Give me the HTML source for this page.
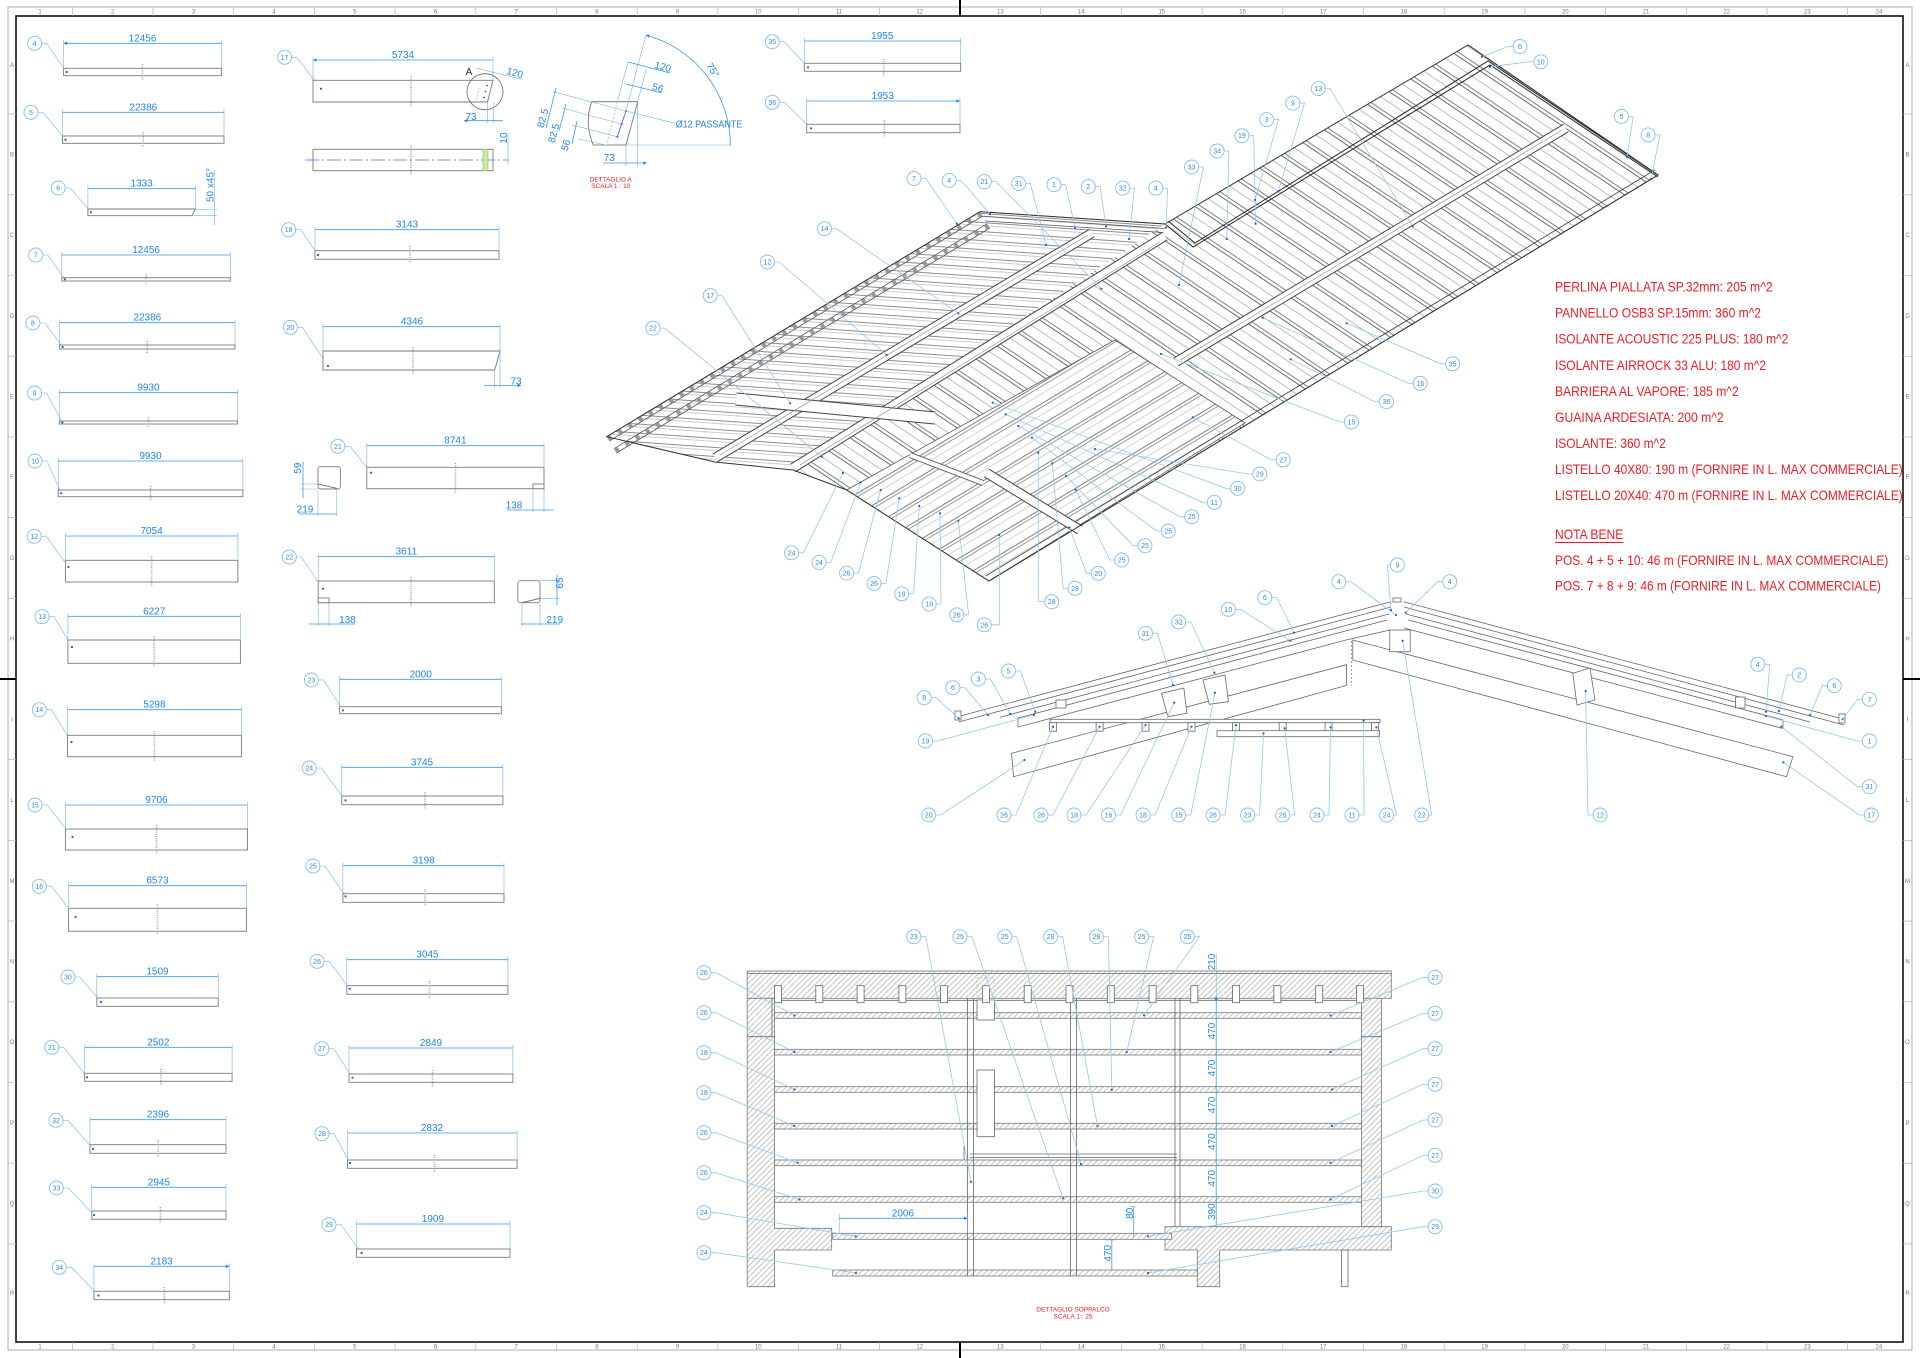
<!DOCTYPE html>
<html><head><meta charset="utf-8"><style>
html,body{margin:0;padding:0;background:#fff}
svg{display:block;font-family:"Liberation Sans",Arial,sans-serif}
.c{fill:#fff;stroke:#84bfec;stroke-width:.9}
.n{font-size:7px;fill:#2a8ce4;text-anchor:middle}
.l{fill:none;stroke:#92c8ef;stroke-width:.8}
.d{fill:#1560d8}
.dm{stroke:#3c98e8;stroke-width:.8;fill:none;marker-start:url(#ar);marker-end:url(#ar)}
.ex{stroke:#6fb3ea;stroke-width:.6;fill:none}
.dt{font-size:10px;fill:#1f86e8;text-anchor:middle}
.b{fill:#fff;stroke:#7a7a7a;stroke-width:.9}
.cm{stroke:#a8a8a8;stroke-width:1.6;stroke-dasharray:1 1.2;fill:none}
.k{fill:none;stroke:#666;stroke-width:.8}
.kw{fill:#fff;stroke:#666;stroke-width:.8}
.h{fill:url(#ph);stroke:#777;stroke-width:.8}
.r{fill:#ee1c25;font-size:14px}
.fr{font-size:6px;fill:#777;text-anchor:middle}
.rt{font-size:6.5px;fill:#ee1c25;text-anchor:middle}
</style></head><body>
<svg width="1920" height="1358" viewBox="0 0 1920 1358" xmlns="http://www.w3.org/2000/svg">
<defs>
<marker id="ar" viewBox="0 0 10 10" refX="10" refY="5" markerWidth="5" markerHeight="3.5" orient="auto-start-reverse" markerUnits="userSpaceOnUse"><path d="M0 0L10 5L0 10z" fill="#1e88e5"/></marker>
<pattern id="ph" patternUnits="userSpaceOnUse" width="6" height="4" patternTransform="rotate(-45)"><rect width="6" height="4" fill="#fff"/><path d="M0 .5H6" stroke="#9a9a9a" stroke-width=".6"/></pattern>
<pattern id="pR" patternUnits="userSpaceOnUse" width="40" height="22.6" patternTransform="rotate(33.8)"><rect width="40" height="22.6" fill="#fff"/><path d="M0 .5H40M0 4H40" stroke="#555" stroke-width=".8"/><path d="M0 13H40" stroke="#999" stroke-width=".6"/></pattern>
<pattern id="pL" patternUnits="userSpaceOnUse" width="40" height="9" patternTransform="rotate(4)"><rect width="40" height="9" fill="#fff"/><path d="M0 .5H40" stroke="#666" stroke-width=".7"/><path d="M0 3.5H40" stroke="#999" stroke-width=".6"/></pattern>
<pattern id="pS" patternUnits="userSpaceOnUse" width="40" height="18" patternTransform="rotate(-31)"><rect width="40" height="18" fill="#fff"/><path d="M0 .5H40" stroke="#555" stroke-width=".8"/><path d="M0 3.5H40" stroke="#777" stroke-width=".7"/><path d="M0 10H40" stroke="#aaa" stroke-width=".6"/></pattern>
</defs>
<rect width="1920" height="1358" fill="#fff"/>

<!-- FRAME -->
<rect x="8" y="7" width="1904" height="1343" fill="none" stroke="#9a9a9a" stroke-width=".8"/>
<rect x="16" y="16" width="1887" height="1326" fill="none" stroke="#111" stroke-width="1.6"/>
<path stroke="#aaa" stroke-width=".6" fill="none" d="M72.3 7V16M153 7V16M233.7 7V16M314.4 7V16M395.1 7V16M475.8 7V16M556.5 7V16M637.2 7V16M717.9 7V16M798.6 7V16M879.3 7V16M1040.7 7V16M1121.4 7V16M1202.1 7V16M1282.8 7V16M1363.5 7V16M1444.2 7V16M1524.9 7V16M1605.6 7V16M1686.3 7V16M1767 7V16M1847.7 7V16
M72.3 1342V1350M153 1342V1350M233.7 1342V1350M314.4 1342V1350M395.1 1342V1350M475.8 1342V1350M556.5 1342V1350M637.2 1342V1350M717.9 1342V1350M798.6 1342V1350M879.3 1342V1350M1040.7 1342V1350M1121.4 1342V1350M1202.1 1342V1350M1282.8 1342V1350M1363.5 1342V1350M1444.2 1342V1350M1524.9 1342V1350M1605.6 1342V1350M1686.3 1342V1350M1767 1342V1350M1847.7 1342V1350
M8 114.1H16M8 194.8H16M8 275.5H16M8 356.2H16M8 436.9H16M8 517.6H16M8 598.3H16M8 759.7H16M8 840.4H16M8 921.1H16M8 1001.8H16M8 1082.5H16M8 1163.2H16M8 1243.9H16
M1903 114.1H1912M1903 194.8H1912M1903 275.5H1912M1903 356.2H1912M1903 436.9H1912M1903 517.6H1912M1903 598.3H1912M1903 759.7H1912M1903 840.4H1912M1903 921.1H1912M1903 1001.8H1912M1903 1082.5H1912M1903 1163.2H1912M1903 1243.9H1912"/>
<path stroke="#000" stroke-width="2" d="M960 0V16M960 1342V1358M0 679H16M1903 679H1920"/>
<g class="fr">
<text x="40" y="13.6">1</text><text x="112.7" y="13.6">2</text><text x="193.4" y="13.6">3</text><text x="274.1" y="13.6">4</text><text x="354.8" y="13.6">5</text><text x="435.5" y="13.6">6</text><text x="516.2" y="13.6">7</text><text x="596.9" y="13.6">8</text><text x="677.6" y="13.6">9</text><text x="758.3" y="13.6">10</text><text x="839" y="13.6">11</text><text x="919.7" y="13.6">12</text><text x="1000.4" y="13.6">13</text><text x="1081.1" y="13.6">14</text><text x="1161.8" y="13.6">15</text><text x="1242.5" y="13.6">16</text><text x="1323.2" y="13.6">17</text><text x="1403.9" y="13.6">18</text><text x="1484.6" y="13.6">19</text><text x="1565.3" y="13.6">20</text><text x="1646" y="13.6">21</text><text x="1726.7" y="13.6">22</text><text x="1807.4" y="13.6">23</text><text x="1879" y="13.6">24</text>
<text x="40" y="1348.5">1</text><text x="112.7" y="1348.5">2</text><text x="193.4" y="1348.5">3</text><text x="274.1" y="1348.5">4</text><text x="354.8" y="1348.5">5</text><text x="435.5" y="1348.5">6</text><text x="516.2" y="1348.5">7</text><text x="596.9" y="1348.5">8</text><text x="677.6" y="1348.5">9</text><text x="758.3" y="1348.5">10</text><text x="839" y="1348.5">11</text><text x="919.7" y="1348.5">12</text><text x="1000.4" y="1348.5">13</text><text x="1081.1" y="1348.5">14</text><text x="1161.8" y="1348.5">15</text><text x="1242.5" y="1348.5">16</text><text x="1323.2" y="1348.5">17</text><text x="1403.9" y="1348.5">18</text><text x="1484.6" y="1348.5">19</text><text x="1565.3" y="1348.5">20</text><text x="1646" y="1348.5">21</text><text x="1726.7" y="1348.5">22</text><text x="1807.4" y="1348.5">23</text><text x="1879" y="1348.5">24</text>
<text x="12" y="67">A</text><text x="12" y="156.5">B</text><text x="12" y="237">C</text><text x="12" y="318">D</text><text x="12" y="398.5">E</text><text x="12" y="479">F</text><text x="12" y="560">G</text><text x="12" y="640.7">H</text><text x="12" y="721.4">I</text><text x="12" y="802">L</text><text x="12" y="882.8">M</text><text x="12" y="963.5">N</text><text x="12" y="1044">O</text><text x="12" y="1125">P</text><text x="12" y="1205.5">Q</text><text x="12" y="1295">R</text>
<text x="1907.5" y="67">A</text><text x="1907.5" y="156.5">B</text><text x="1907.5" y="237">C</text><text x="1907.5" y="318">D</text><text x="1907.5" y="398.5">E</text><text x="1907.5" y="479">F</text><text x="1907.5" y="560">G</text><text x="1907.5" y="640.7">H</text><text x="1907.5" y="721.4">I</text><text x="1907.5" y="802">L</text><text x="1907.5" y="882.8">M</text><text x="1907.5" y="963.5">N</text><text x="1907.5" y="1044">O</text><text x="1907.5" y="1125">P</text><text x="1907.5" y="1205.5">Q</text><text x="1907.5" y="1295">R</text>
</g>

<!-- LEFT COLUMN PARTS -->
<g>
<path class="l" d="M41.6 43.3h5L66.6 72M38 112.3h5L65.5 139.7M65.2 188h5L90.9 212.3M42.7 255h5L64.8 279.3M39.9 323h5L62.6 347M41.6 393h5L62.3 422.5M42 461h5L61.2 493.3M41.3 536.3h5L68.4 567M49.1 616.7h5L72 647M46.3 709.7h5L71.5 742M42 805h5L72.5 837M46.3 886.3h5L75.5 917M74.9 977h5L101 1002M58.8 1047.3h5L87 1077.3M63 1120.3h5L93 1149M63.4 1188h5L94 1215M66.3 1267.3h5L98.5 1295.5"/>
<path class="dm" d="M63.6 43.3H221.4M62.5 112.3H224M87.9 188.7H195.4M61.8 255H230.4M59.6 322.7H235M59.3 392.7H237.5M58.2 461H242.9M65.4 536H237.9M67.9 616.3H240.4M67.5 709.7H241.4M65.4 805H247.5M68.6 885.7H246.4M96.8 976.7H218.2M84.6 1047.3H232.1M90 1119.7H226M91.8 1187.3H226M93.9 1266.3H229.3"/>
<path class="ex" d="M63.6 40V68.3M221.4 40V68.3M62.5 109V136M224 109V136M87.9 185.4V209M195.4 185.4V209M61.8 252V277.7M230.4 252V277.7M59.6 319.7V345M235 319.7V345M59.3 389.7V421M237.5 389.7V421M58.2 458V490M242.9 458V490M65.4 533V560.3M237.9 533V560.3M67.9 613.3V640M240.4 613.3V640M67.5 706.7V735.3M241.4 706.7V735.3M65.4 802V829M247.5 802V829M68.6 882.7V908.3M246.4 882.7V908.3M96.8 973.7V998M218.2 973.7V998M84.6 1044.3V1073.3M232.1 1044.3V1073.3M90 1116.7V1144.7M226 1116.7V1144.7M91.8 1184.3V1211M226 1184.3V1211M93.9 1263.3V1291.3M229.3 1263.3V1291.3"/>
<g class="b">
<rect x="63.6" y="68.3" width="157.8" height="7.4"/><rect x="62.5" y="136" width="161.5" height="7.3"/><polygon points="87.9,209 195.4,209 192,215.7 87.9,215.7"/><rect x="61.8" y="277.7" width="168.6" height="3.3"/><rect x="59.6" y="345" width="175.4" height="4"/><rect x="59.3" y="421" width="178.2" height="3"/><rect x="58.2" y="490" width="184.7" height="6.7"/><rect x="65.4" y="560.3" width="172.5" height="21.7"/><rect x="67.9" y="640" width="172.5" height="23.3"/><rect x="67.5" y="735.3" width="173.9" height="21.4"/><rect x="65.4" y="829" width="182.1" height="21"/><rect x="68.6" y="908.3" width="177.8" height="23"/><rect x="96.8" y="998" width="121.4" height="8.3"/><rect x="84.6" y="1073.3" width="147.5" height="8"/><rect x="90" y="1144.7" width="136" height="8.6"/><rect x="91.8" y="1211" width="134.2" height="8.3"/><rect x="93.9" y="1291.3" width="135.4" height="8.4"/>
</g>
<path class="cm" d="M142.5 64V80M143.3 132V147M146.1 273.7V285M147.3 341V353M148.4 417V428M150.5 486V501M151.6 556V586M154.2 636V667M154.4 731V761M156.5 825V854M157.5 904V935M161 1069V1085M158.2 1140V1157M160.4 1207V1223M164.3 1287V1304"/>
<path class="ex" d="M214.6 170V225M195.4 209.5H217M192 215.7H217"/>
<text class="dt" transform="translate(213.5 185) rotate(-90)">50 x45°</text>
<g class="dt">
<text x="142.5" y="41.3">12456</text><text x="143.3" y="110.3">22386</text><text x="141.6" y="186.7">1333</text><text x="146.1" y="253">12456</text><text x="147.3" y="320.7">22386</text><text x="148.4" y="390.7">9930</text><text x="150.5" y="459">9930</text><text x="151.6" y="534">7054</text><text x="154.2" y="614.3">6227</text><text x="154.4" y="707.7">5298</text><text x="156.5" y="803">9706</text><text x="157.5" y="883.7">6573</text><text x="157.5" y="974.7">1509</text><text x="158.3" y="1045.3">2502</text><text x="158" y="1117.7">2396</text><text x="158.9" y="1185.3">2945</text><text x="161.6" y="1264.3">2183</text>
</g>
<g class="d"><circle cx="66.6" cy="72" r="1.1"/><circle cx="65.5" cy="139.7" r="1.1"/><circle cx="90.9" cy="212.3" r="1.1"/><circle cx="64.8" cy="279.3" r="1.1"/><circle cx="62.6" cy="347" r="1.1"/><circle cx="62.3" cy="422.5" r="1.1"/><circle cx="61.2" cy="493.3" r="1.1"/><circle cx="68.4" cy="567" r="1.1"/><circle cx="72" cy="647" r="1.1"/><circle cx="71.5" cy="742" r="1.1"/><circle cx="72.5" cy="837" r="1.1"/><circle cx="75.5" cy="917" r="1.1"/><circle cx="101" cy="1002" r="1.1"/><circle cx="87" cy="1077.3" r="1.1"/><circle cx="93" cy="1149" r="1.1"/><circle cx="94" cy="1215" r="1.1"/><circle cx="98.5" cy="1295.5" r="1.1"/></g>
<g class="c"><circle cx="34.6" cy="43.3" r="7"/><circle cx="31" cy="112.3" r="7"/><circle cx="58.2" cy="188" r="7"/><circle cx="35.7" cy="255" r="7"/><circle cx="32.9" cy="323" r="7"/><circle cx="34.6" cy="393" r="7"/><circle cx="35" cy="461" r="7"/><circle cx="34.3" cy="536.3" r="7"/><circle cx="42.1" cy="616.7" r="7"/><circle cx="39.3" cy="709.7" r="7"/><circle cx="35" cy="805" r="7"/><circle cx="39.3" cy="886.3" r="7"/><circle cx="67.9" cy="977" r="7"/><circle cx="51.8" cy="1047.3" r="7"/><circle cx="56" cy="1120.3" r="7"/><circle cx="56.4" cy="1188" r="7"/><circle cx="59.3" cy="1267.3" r="7"/></g>
<g class="n"><text x="34.6" y="45.8">4</text><text x="31" y="114.8">5</text><text x="58.2" y="190.5">6</text><text x="35.7" y="257.5">7</text><text x="32.9" y="325.5">8</text><text x="34.6" y="395.5">9</text><text x="35" y="463.5">10</text><text x="34.3" y="538.8">12</text><text x="42.1" y="619.2">13</text><text x="39.3" y="712.2">14</text><text x="35" y="807.5">15</text><text x="39.3" y="888.8">16</text><text x="67.9" y="979.5">30</text><text x="51.8" y="1049.8">31</text><text x="56" y="1122.8">32</text><text x="56.4" y="1190.5">33</text><text x="59.3" y="1269.8">34</text></g>
</g>

<!-- MIDDLE COLUMN PARTS -->
<g>
<path class="l" d="M291.6 57.3h5L321 88.7M295.6 229.7h5L318 255M297.4 327.3h5L328 366M344.9 446.3h5L371 472.7M296.3 557h5L323 588.7M318.4 680h5L343 710.3M316.3 768h5L345.5 800.3M319.9 866h5L345.5 896.3M324.1 961.3h5L349.7 988.7M328.8 1048.7h5L352.5 1077.7M329 1133.7h5L350 1163M336 1224.7h5L361.5 1253M779.3 41.7h5L808 67.3M779.3 102.3h5L811 128.3"/>
<path class="dm" d="M313 60H493M315 229.7H499M323 326.7H500M366.8 445.7H544M318.2 556.7H494.3M339.6 679.3H501.4M341.8 767.3H502.9M342.9 865.7H504M346.8 959.7H507.9M349 1048H512.9M347.5 1133H517.1M356.4 1224H510M804.3 41H960.7M806.7 101H960"/>
<path class="ex" d="M313 57V80.3M493 57V80.3M315 226.7V250.7M499 226.7V250.7M323 323.7V351M500 323.7V351M366.8 442.7V467.3M544 442.7V467.3M318.2 553.7V581M494.3 553.7V581M339.6 676.3V706.7M501.4 676.3V706.7M341.8 764.3V796M502.9 764.3V796M342.9 862.7V893.7M504 862.7V893.7M346.8 956.7V985.7M507.9 956.7V985.7M349 1045V1074M512.9 1045V1074M347.5 1130V1160M517.1 1130V1160M356.4 1221V1249M510 1221V1249M804.3 38V63.3M960.7 38V63.3M806.7 98V124.3M960 98V124.3"/>
<g class="b">
<polygon points="313,80.3 493,80.3 487.5,102 313,102"/><rect x="313" y="149.3" width="180" height="21.4"/><rect x="315" y="250.7" width="184" height="8.6"/><polygon points="323,351 500,351 494.7,370 323,370"/><rect x="366.8" y="467.3" width="177.2" height="21.4"/><rect x="533" y="484" width="11" height="4.7"/><rect x="318.2" y="581" width="176.1" height="21.7"/><rect x="318.2" y="598" width="10.8" height="4.7"/><rect x="339.6" y="706.7" width="161.8" height="7"/><rect x="341.8" y="796" width="161.1" height="8.7"/><rect x="342.9" y="893.7" width="161.1" height="8.6"/><rect x="346.8" y="985.7" width="161.1" height="8.6"/><rect x="349" y="1074" width="163.9" height="8.3"/><rect x="347.5" y="1160" width="169.6" height="8.3"/><rect x="356.4" y="1249" width="153.6" height="8.3"/><rect x="804.3" y="63.3" width="156.4" height="8"/><rect x="806.7" y="124.3" width="153.3" height="8.4"/>
<rect x="318" y="466.7" width="22.4" height="22.3" rx="2.5"/><rect x="517.9" y="580.7" width="22.1" height="22" rx="2.5"/>
</g>
<path class="k" d="M318 484L336.8 488.3M522 602.7L540 598.3"/>
<path class="cm" d="M411 76V106M411 145V175M410 246V263M413 347V374M455.4 463V493M411 577V607M425 792V809M425 889V906M429.5 981V999M432.5 1070V1087M434.6 1155V1173M883.7 59V76M884.3 120V137"/>
<path d="M305 160H509" stroke="#5d66d6" stroke-width=".8" stroke-dasharray="14 3 2 3"/>
<rect x="483" y="149.3" width="5" height="21.4" fill="#c8eba0" stroke="#8bc34a" stroke-width=".6"/>
<circle cx="485" cy="91.7" r="18" fill="none" stroke="#666" stroke-width=".8"/>
<text x="469" y="75" font-size="10" fill="#222" text-anchor="middle">A</text>
<path d="M479 88L476.5 100" stroke="#9bd36a" stroke-width=".8" stroke-dasharray="2 1.5"/>
<g fill="#3050d0"><circle cx="487" cy="85.5" r=".9"/><circle cx="485.5" cy="91.5" r=".9"/><circle cx="484" cy="97.5" r=".9"/></g>
<path class="ex" d="M476.8 68.3L521.4 79.3M487.5 103V123M493.2 103V123M508 133V165M300 484H318M300 489H318M318 490V516M336.8 490V516M533 489V512M544 489V512M318.2 603V626M329 603V626M540 580.7H560M540 598.3H560M522 603V626M540 603V626M494.7 371V388M500 352V388"/>
<path class="dm" d="M464 120.7H503M303 461.7V498M298.6 514H336.8M507 510H553.6M309 624H355M557 575V605M521 624H560M484 385.5H521"/>
<g class="dt">
<text x="403" y="58">5734</text><text x="407" y="227.7">3143</text><text x="412" y="324.7">4346</text><text x="455.4" y="443.7">8741</text><text x="406.4" y="554.7">3611</text><text x="420.7" y="677.3">2000</text><text x="422" y="765.3">3745</text><text x="423.6" y="863.7">3198</text><text x="427.5" y="957.7">3045</text><text x="431" y="1046">2849</text><text x="432" y="1131">2832</text><text x="432.9" y="1222">1909</text><text x="882.3" y="39">1955</text><text x="882.7" y="99">1953</text>
<text transform="translate(514 76) rotate(15)">120</text><text x="471" y="120">73</text><text x="516" y="384.5">73</text><text x="514" y="508.5">138</text><text x="305" y="512.5">219</text><text x="347.5" y="622.8">138</text><text x="554.7" y="623">219</text>
<text transform="translate(507 138) rotate(-90)">10</text><text transform="translate(301 468.3) rotate(-90)">59</text><text transform="translate(563 583) rotate(-90)">65</text>
</g>
<g class="d"><circle cx="321" cy="88.7" r="1.1"/><circle cx="318" cy="255" r="1.1"/><circle cx="328" cy="366" r="1.1"/><circle cx="371" cy="472.7" r="1.1"/><circle cx="323" cy="588.7" r="1.1"/><circle cx="343" cy="710.3" r="1.1"/><circle cx="345.5" cy="800.3" r="1.1"/><circle cx="345.5" cy="896.3" r="1.1"/><circle cx="349.7" cy="988.7" r="1.1"/><circle cx="352.5" cy="1077.7" r="1.1"/><circle cx="350" cy="1163" r="1.1"/><circle cx="361.5" cy="1253" r="1.1"/><circle cx="808" cy="67.3" r="1.1"/><circle cx="811" cy="128.3" r="1.1"/></g>
<g class="c"><circle cx="284.6" cy="57.3" r="7"/><circle cx="288.6" cy="229.7" r="7"/><circle cx="290.4" cy="327.3" r="7"/><circle cx="337.9" cy="446.3" r="7"/><circle cx="289.3" cy="557" r="7"/><circle cx="311.4" cy="680" r="7"/><circle cx="309.3" cy="768" r="7"/><circle cx="312.9" cy="866" r="7"/><circle cx="317.1" cy="961.3" r="7"/><circle cx="321.8" cy="1048.7" r="7"/><circle cx="322" cy="1133.7" r="7"/><circle cx="329" cy="1224.7" r="7"/><circle cx="772.3" cy="41.7" r="7"/><circle cx="772.3" cy="102.3" r="7"/></g>
<g class="n"><text x="284.6" y="59.8">17</text><text x="288.6" y="232.2">18</text><text x="290.4" y="329.8">20</text><text x="337.9" y="448.8">21</text><text x="289.3" y="559.5">22</text><text x="311.4" y="682.5">23</text><text x="309.3" y="770.5">24</text><text x="312.9" y="868.5">25</text><text x="317.1" y="963.8">26</text><text x="321.8" y="1051.2">27</text><text x="322" y="1136.2">28</text><text x="329" y="1227.2">29</text><text x="772.3" y="44.2">35</text><text x="772.3" y="104.8">36</text></g>
</g>

<!-- DETTAGLIO A -->
<g>
<path class="k" d="M591.7 101.7H637.7L626 145H593.3Q584 123 591.7 101.7Z"/>
<path d="M617.3 101.7L606.7 145" stroke="#9bd36a" stroke-width=".8" stroke-dasharray="2 2"/>
<path d="M626 111L617.3 136.7" stroke="#3a5fd0" stroke-width=".8"/>
<g fill="#1f4fd0"><circle cx="626" cy="111" r="1"/><circle cx="621.7" cy="124" r="1"/><circle cx="617.3" cy="136.7" r="1"/></g>
<path class="ex" d="M645.9 35.1L626 111M626 145H731M617.3 101.7L628 62M637.7 101.7L646 70M626 111L553 91.7M621.7 124L562 108M617.3 136.7L572 125M606 145L578 139M626 145V166M637.7 102V166M675 123.3L626 111"/>
<path class="dm" d="M645.9 35.1A113.8 113.8 0 0 1 730.3 145M628 62L670 73M626 84L662 93M556 88L546 128M566 104L559 131M577 121L572 144M603.3 163H646.7"/>
<g class="dt">
<text transform="translate(662 70) rotate(15)">120</text><text transform="translate(657 91) rotate(15)">56</text><text transform="translate(710 72) rotate(58)">75°</text>
<text transform="translate(546 119) rotate(-75)">82.5</text><text transform="translate(557 134) rotate(-75)">82.5</text><text transform="translate(569 146) rotate(-75)">56</text>
<text x="609.3" y="161">73</text>
<text x="675.7" y="127.5" text-anchor="start" textLength="66.6" lengthAdjust="spacingAndGlyphs">Ø12 PASSANTE</text>
</g>
<text class="rt" x="610.7" y="181.3">DETTAGLIO A</text><text class="rt" x="610.7" y="187.8">SCALA 1 : 10</text>
</g>

<!-- ISOMETRIC ROOF -->
<g>
<polygon points="1165,224 1468,45 1658,175 989,581 846.7,490 793,470" fill="url(#pR)"/>
<polygon points="606.7,436.7 980,211.7 1165,224 793,470 715,462" fill="url(#pL)"/>
<polygon points="846.7,490 1115,340 1245,423 989,581" fill="url(#pS)" stroke="#555" stroke-width=".8"/>
<!-- eave strips left -->
<path stroke="#555" stroke-width=".8" fill="none" d="M606.7 436.7L980 211.7M609.3 441L982.6 216M613.9 448.7L987.2 223.7M616.5 453L989.8 228M980 211.7L1165 224M980.5 216L1165 228.5M985 221L1163 232.5"/>
<path stroke="#999" stroke-width="4" stroke-dasharray="4 8" d="M608 438.9L981.3 213.9M615.2 450.8L988.5 225.8"/>
<!-- black frame upper right -->
<path stroke="#222" stroke-width="1" fill="none" d="M1165 224L1193 247L1490 65L1658 177M1168 221L1195 243L1488 61L1656 174"/>
<!-- stepped lower edge -->
<path stroke="#444" stroke-width=".9" fill="none" d="M1658 175L989 581M1654.9 169.9L985.9 575.9M1468 45L1658 175"/>
<!-- beams -->
<g fill="none" stroke-linecap="butt">
<path d="M793 468L1165 236M715 458L1092 233M1176 362L1566 128M986.7 473L1080 530" stroke="#444" stroke-width="10"/>
<path d="M793 468L1165 236M715 458L1092 233M1176 362L1566 128M986.7 473L1080 530" stroke="#fff" stroke-width="8"/>
<path d="M910 455L983 483" stroke="#444" stroke-width="6"/><path d="M910 455L983 483" stroke="#fff" stroke-width="4.4"/>
<path d="M736 399L935 418" stroke="#444" stroke-width="13"/><path d="M736 399L935 418" stroke="#fff" stroke-width="11"/>
<path d="M800 465L1160 242M720 455L1088 235M1180 360L1562 130" stroke="#888" stroke-width=".6"/>
</g>
<polygon points="606.7,436.7 980,211.7 1165,224 1468,45 1658,175 989,581 846.7,490 793,470 715,462" fill="none" stroke="#333" stroke-width="1"/>
</g>

<!-- ROOF LABELS -->
<g>
<path class="l" d="M1513.2 46.5h-5L1482 56.7M1534 61.8h-5L1490 66.7M1628.2 116.5h5L1627 157M1655 134.9h5L1651 179M1325.1 88.6h5L1412.7 226.4M1299.6 103.1h5L1278.4 191.2M1273.5 119.6h5L1255 200M1248.7 135.7h5L1255.6 223.7M1223.9 151h5L1226.7 239M1198.4 167h5L1179 285M920.8 178.5h5L956.8 223.7M956 180.4h5L990 214M991.1 181.6h5L1101.4 288.8M1025.5 183.5h5L1046 245M1060.7 184.7h5L1075 228M1095.1 186.6h5L1106 226.4M1129.5 188.1h5L1129 239M1162.6 188.1h5L1166 227.5M831.3 228.7h5L958.3 313.3M774.2 262h5L886.7 355M717 295.6h5L790 403.3M659.8 328.2h5L821.7 456.7M1445.8 363.8h-5L1346.7 323.3M1413.4 383.3h-5L1262.7 317.7M1379.7 401.6h-5L1290.7 359.3M1344.6 421.9h-5L1161 354M1276.4 459.8h-5L1192.7 417.3M1253 474h-5L1095 449M1230.9 488.3h-5L992.7 402.7M1207.5 502.3h-5L1005.7 414.3M1184.9 516.7h-5L1018.3 426M1161.5 531h-5L1032 437.7M1138.2 545.7h-5L1066 476M1114.9 560h-5L1075.7 490M1091.5 573.3h-5L1069.3 527.3M1068.2 588.3h-5L1052.3 463.3M1044.9 601.7h-6.6V452.7M798.3 552.8h5L843 473M825.8 562.4h5L860.7 482.3M853.4 573.1h5L880.7 490M880.9 583.4h5L899.3 498.3M908.5 593.8h5L919.3 506M936 604.1h5L940 513.3M963.6 614.8h5L958.3 520.7M991.1 624.8h8.2V535"/>
<g class="d"><circle cx="1482" cy="56.7" r="1.1"/><circle cx="1490" cy="66.7" r="1.1"/><circle cx="1627" cy="157" r="1.1"/><circle cx="1651" cy="179" r="1.1"/><circle cx="1412.7" cy="226.4" r="1.1"/><circle cx="1278.4" cy="191.2" r="1.1"/><circle cx="1255" cy="200" r="1.1"/><circle cx="1255.6" cy="223.7" r="1.1"/><circle cx="1226.7" cy="239" r="1.1"/><circle cx="1179" cy="285" r="1.1"/><circle cx="956.8" cy="223.7" r="1.1"/><circle cx="990" cy="214" r="1.1"/><circle cx="1101.4" cy="288.8" r="1.1"/><circle cx="1046" cy="245" r="1.1"/><circle cx="1075" cy="228" r="1.1"/><circle cx="1106" cy="226.4" r="1.1"/><circle cx="1129" cy="239" r="1.1"/><circle cx="1166" cy="227.5" r="1.1"/><circle cx="958.3" cy="313.3" r="1.1"/><circle cx="886.7" cy="355" r="1.1"/><circle cx="790" cy="403.3" r="1.1"/><circle cx="821.7" cy="456.7" r="1.1"/><circle cx="1346.7" cy="323.3" r="1.1"/><circle cx="1262.7" cy="317.7" r="1.1"/><circle cx="1290.7" cy="359.3" r="1.1"/><circle cx="1161" cy="354" r="1.1"/><circle cx="1192.7" cy="417.3" r="1.1"/><circle cx="1095" cy="449" r="1.1"/><circle cx="992.7" cy="402.7" r="1.1"/><circle cx="1005.7" cy="414.3" r="1.1"/><circle cx="1018.3" cy="426" r="1.1"/><circle cx="1032" cy="437.7" r="1.1"/><circle cx="1066" cy="476" r="1.1"/><circle cx="1075.7" cy="490" r="1.1"/><circle cx="1069.3" cy="527.3" r="1.1"/><circle cx="1052.3" cy="463.3" r="1.1"/><circle cx="1038.3" cy="452.7" r="1.1"/><circle cx="843" cy="473" r="1.1"/><circle cx="860.7" cy="482.3" r="1.1"/><circle cx="880.7" cy="490" r="1.1"/><circle cx="899.3" cy="498.3" r="1.1"/><circle cx="919.3" cy="506" r="1.1"/><circle cx="940" cy="513.3" r="1.1"/><circle cx="958.3" cy="520.7" r="1.1"/><circle cx="999.3" cy="535" r="1.1"/></g>
<g class="c"><circle cx="1520" cy="46.5" r="7"/><circle cx="1540.8" cy="61.8" r="7"/><circle cx="1621.4" cy="116.5" r="7"/><circle cx="1648.2" cy="134.9" r="7"/><circle cx="1318.3" cy="88.6" r="7"/><circle cx="1292.8" cy="103.1" r="7"/><circle cx="1266.7" cy="119.6" r="7"/><circle cx="1241.9" cy="135.7" r="7"/><circle cx="1217.1" cy="151" r="7"/><circle cx="1191.6" cy="167" r="7"/><circle cx="914" cy="178.5" r="7"/><circle cx="949.2" cy="180.4" r="7"/><circle cx="984.3" cy="181.6" r="7"/><circle cx="1018.7" cy="183.5" r="7"/><circle cx="1053.9" cy="184.7" r="7"/><circle cx="1088.3" cy="186.6" r="7"/><circle cx="1122.7" cy="188.1" r="7"/><circle cx="1155.8" cy="188.1" r="7"/><circle cx="824.5" cy="228.7" r="7"/><circle cx="767.4" cy="262" r="7"/><circle cx="710.2" cy="295.6" r="7"/><circle cx="653" cy="328.2" r="7"/><circle cx="1452.6" cy="363.8" r="7"/><circle cx="1420.2" cy="383.3" r="7"/><circle cx="1386.5" cy="401.6" r="7"/><circle cx="1351.4" cy="421.9" r="7"/><circle cx="1283.2" cy="459.8" r="7"/><circle cx="1259.8" cy="474" r="7"/><circle cx="1237.7" cy="488.3" r="7"/><circle cx="1214.3" cy="502.3" r="7"/><circle cx="1191.7" cy="516.7" r="7"/><circle cx="1168.3" cy="531" r="7"/><circle cx="1145" cy="545.7" r="7"/><circle cx="1121.7" cy="560" r="7"/><circle cx="1098.3" cy="573.3" r="7"/><circle cx="1075" cy="588.3" r="7"/><circle cx="1051.7" cy="601.7" r="7"/><circle cx="791.5" cy="552.8" r="7"/><circle cx="819" cy="562.4" r="7"/><circle cx="846.6" cy="573.1" r="7"/><circle cx="874.1" cy="583.4" r="7"/><circle cx="901.7" cy="593.8" r="7"/><circle cx="929.2" cy="604.1" r="7"/><circle cx="956.8" cy="614.8" r="7"/><circle cx="984.3" cy="624.8" r="7"/></g>
<g class="n"><text x="1520" y="49">6</text><text x="1540.8" y="64.3">10</text><text x="1621.4" y="119">5</text><text x="1648.2" y="137.4">8</text><text x="1318.3" y="91.1">13</text><text x="1292.8" y="105.6">9</text><text x="1266.7" y="122.1">3</text><text x="1241.9" y="138.2">19</text><text x="1217.1" y="153.5">34</text><text x="1191.6" y="169.5">33</text><text x="914" y="181">7</text><text x="949.2" y="182.9">4</text><text x="984.3" y="184.1">21</text><text x="1018.7" y="186">31</text><text x="1053.9" y="187.2">1</text><text x="1088.3" y="189.1">2</text><text x="1122.7" y="190.6">32</text><text x="1155.8" y="190.6">4</text><text x="824.5" y="231.2">14</text><text x="767.4" y="264.5">12</text><text x="710.2" y="298.1">17</text><text x="653" y="330.7">22</text><text x="1452.6" y="366.3">35</text><text x="1420.2" y="385.8">16</text><text x="1386.5" y="404.1">36</text><text x="1351.4" y="424.4">15</text><text x="1283.2" y="462.3">27</text><text x="1259.8" y="476.5">29</text><text x="1237.7" y="490.8">30</text><text x="1214.3" y="504.8">11</text><text x="1191.7" y="519.2">25</text><text x="1168.3" y="533.5">25</text><text x="1145" y="548.2">25</text><text x="1121.7" y="562.5">25</text><text x="1098.3" y="575.8">20</text><text x="1075" y="590.8">28</text><text x="1051.7" y="604.2">28</text><text x="791.5" y="555.3">24</text><text x="819" y="564.9">24</text><text x="846.6" y="575.6">26</text><text x="874.1" y="585.9">26</text><text x="901.7" y="596.3">18</text><text x="929.2" y="606.6">18</text><text x="956.8" y="617.3">26</text><text x="984.3" y="627.3">26</text></g>
</g>

<!-- RED NOTES -->
<g class="r">
<text x="1555" y="291.7" textLength="217.7" lengthAdjust="spacingAndGlyphs">PERLINA PIALLATA SP.32mm: 205 m^2</text>
<text x="1555" y="317.7" textLength="206" lengthAdjust="spacingAndGlyphs">PANNELLO OSB3 SP.15mm: 360 m^2</text>
<text x="1555" y="343.7" textLength="233.3" lengthAdjust="spacingAndGlyphs">ISOLANTE ACOUSTIC 225 PLUS: 180 m^2</text>
<text x="1555" y="370" textLength="211" lengthAdjust="spacingAndGlyphs">ISOLANTE AIRROCK 33 ALU: 180 m^2</text>
<text x="1555" y="396" textLength="183.7" lengthAdjust="spacingAndGlyphs">BARRIERA AL VAPORE: 185 m^2</text>
<text x="1555" y="422" textLength="168.7" lengthAdjust="spacingAndGlyphs">GUAINA ARDESIATA: 200 m^2</text>
<text x="1555" y="448" textLength="110.7" lengthAdjust="spacingAndGlyphs">ISOLANTE: 360 m^2</text>
<text x="1555" y="474" textLength="347.7" lengthAdjust="spacingAndGlyphs">LISTELLO 40X80: 190 m (FORNIRE IN L. MAX COMMERCIALE)</text>
<text x="1555" y="500" textLength="347.7" lengthAdjust="spacingAndGlyphs">LISTELLO 20X40: 470 m (FORNIRE IN L. MAX COMMERCIALE)</text>
<text x="1555" y="539" textLength="68.3" lengthAdjust="spacingAndGlyphs">NOTA BENE</text>
<text x="1555" y="565" textLength="333.3" lengthAdjust="spacingAndGlyphs">POS. 4 + 5 + 10: 46 m (FORNIRE IN L. MAX COMMERCIALE)</text>
<text x="1555" y="590.7" textLength="326" lengthAdjust="spacingAndGlyphs">POS. 7 + 8 + 9: 46 m (FORNIRE IN L. MAX COMMERCIALE)</text>
</g>
<path d="M1555 542.5H1623.5" stroke="#ee1c25" stroke-width=".9"/>

<!-- GABLE SECTION -->
<g>
<polygon class="kw" points="1011.6,753.3 1346.4,664.7 1346.4,685.5 1013.5,776.7"/>
<polygon class="kw" points="1352.8,640 1792.9,756.7 1786.5,776.7 1352.8,660"/>
<path class="k" d="M1391 601.7L957.4 716.7M1391 607L958.5 722M1389 614L1000 717.2M1387 620L1018 718M1346 640L1018 727M1018 718V727M1346 640L1390 630
M1403.8 601.7L1843.9 719.3M1404 607L1844 725M1406 614L1810 722M1408 620L1783 720M1404 628L1783 728.5M1783 720V728.5"/>
<path d="M1351.5 641V686" stroke="#777" stroke-width=".7" stroke-dasharray="2 2"/>
<g class="kw">
<rect x="955" y="711" width="6" height="9"/><rect x="1839" y="714" width="6" height="9"/>
<polygon points="1161.5,693.3 1183.8,688 1187,713.3 1167.9,716.7"/><polygon points="1203,680 1225,675 1228.4,701.7 1209.3,704.3"/>
<polygon points="1572.8,673.3 1590,668 1595,700 1577,705"/>
<rect x="1056" y="700" width="10" height="8"/><rect x="1735.5" y="697" width="9.5" height="11"/>
<rect x="1050" y="719.3" width="330" height="3.4"/>
<rect x="1049.5" y="722.7" width="7" height="8.5"/><rect x="1096.1" y="722.7" width="7" height="8.5"/><rect x="1142" y="722.7" width="7" height="8.5"/><rect x="1188" y="722.7" width="7" height="8.5"/><rect x="1232.5" y="722.7" width="7" height="8.5"/><rect x="1279.2" y="722.7" width="7" height="8.5"/><rect x="1325.1" y="722.7" width="7" height="8.5"/><rect x="1371.5" y="722.7" width="7" height="8.5"/>
<rect x="1217" y="730.7" width="162.6" height="6"/>
<rect x="1389.8" y="630" width="20.4" height="21.7"/>
<rect x="1393" y="598" width="8" height="4"/>
</g>
<path class="l" d="M1390.4 565h-3L1391 610M1345.8 581.7h5L1396 615M1442.7 581.7h-5L1405.7 612.7M1271.8 597.7h5L1294 632.7M1235.4 609.3h5L1290.3 640.7M1185.7 622h5L1214.4 672.7M1152.5 633.3h5L1173 685M1015.4 671h5L1035.2 711.7M985.4 679h5L1010.3 714M959.9 687.7h5L988 715M931.2 697.7h5L958.7 718.3M932.5 741h5L1034 715M1764.8 664.3h5L1766 711.7M1792.2 675h-5L1778.8 711M1827.3 685.7h-5L1810 715M1862.4 699.3h-5L1842.6 719.3M1862.4 741h-5L1766 716M1862.4 786.7h-5L1781.4 726.7
M935.7 815h5L1024.4 760M1011 815h5L1053 726.7M1048 815h5L1099.6 726.7M1081 815h5L1145.5 725M1115.5 815h5L1174.2 702.7M1150 815h5L1191.5 726.7M1185.7 815h5L1215 692.7M1220 815h5L1236 725M1254.6 815h5L1263.5 733.3M1289.7 815h5L1284.6 728.3M1324 815h5L1330.5 727.3M1359 815h5L1363.6 720.7M1393.6 815h3L1376.4 727.3M1428.7 815h3L1402.6 640.7M1593 815h-5L1585.6 691M1864.3 815h-5L1783.3 762.3"/>
<g class="d"><circle cx="1391" cy="610" r="1.1"/><circle cx="1396" cy="615" r="1.1"/><circle cx="1405.7" cy="612.7" r="1.1"/><circle cx="1294" cy="632.7" r="1.1"/><circle cx="1290.3" cy="640.7" r="1.1"/><circle cx="1214.4" cy="672.7" r="1.1"/><circle cx="1173" cy="685" r="1.1"/><circle cx="1035.2" cy="711.7" r="1.1"/><circle cx="1010.3" cy="714" r="1.1"/><circle cx="988" cy="715" r="1.1"/><circle cx="958.7" cy="718.3" r="1.1"/><circle cx="1034" cy="715" r="1.1"/><circle cx="1766" cy="711.7" r="1.1"/><circle cx="1778.8" cy="711" r="1.1"/><circle cx="1810" cy="715" r="1.1"/><circle cx="1842.6" cy="719.3" r="1.1"/><circle cx="1766" cy="716" r="1.1"/><circle cx="1781.4" cy="726.7" r="1.1"/><circle cx="1024.4" cy="760" r="1.1"/><circle cx="1053" cy="726.7" r="1.1"/><circle cx="1099.6" cy="726.7" r="1.1"/><circle cx="1145.5" cy="725" r="1.1"/><circle cx="1174.2" cy="702.7" r="1.1"/><circle cx="1191.5" cy="726.7" r="1.1"/><circle cx="1215" cy="692.7" r="1.1"/><circle cx="1236" cy="725" r="1.1"/><circle cx="1263.5" cy="733.3" r="1.1"/><circle cx="1284.6" cy="728.3" r="1.1"/><circle cx="1330.5" cy="727.3" r="1.1"/><circle cx="1363.6" cy="720.7" r="1.1"/><circle cx="1376.4" cy="727.3" r="1.1"/><circle cx="1402.6" cy="640.7" r="1.1"/><circle cx="1585.6" cy="691" r="1.1"/><circle cx="1783.3" cy="762.3" r="1.1"/></g>
<g class="c"><circle cx="1397.4" cy="565" r="7"/><circle cx="1338.8" cy="581.7" r="7"/><circle cx="1449.7" cy="581.7" r="7"/><circle cx="1264.8" cy="597.7" r="7"/><circle cx="1228.4" cy="609.3" r="7"/><circle cx="1178.7" cy="622" r="7"/><circle cx="1145.5" cy="633.3" r="7"/><circle cx="1008.4" cy="671" r="7"/><circle cx="978.4" cy="679" r="7"/><circle cx="952.9" cy="687.7" r="7"/><circle cx="924.2" cy="697.7" r="7"/><circle cx="925.5" cy="741" r="7"/><circle cx="1757.8" cy="664.3" r="7"/><circle cx="1799.2" cy="675" r="7"/><circle cx="1834.3" cy="685.7" r="7"/><circle cx="1869.4" cy="699.3" r="7"/><circle cx="1869.4" cy="741" r="7"/><circle cx="1869.4" cy="786.7" r="7"/><circle cx="928.7" cy="815" r="7"/><circle cx="1004" cy="815" r="7"/><circle cx="1041" cy="815" r="7"/><circle cx="1074" cy="815" r="7"/><circle cx="1108.5" cy="815" r="7"/><circle cx="1143" cy="815" r="7"/><circle cx="1178.7" cy="815" r="7"/><circle cx="1213" cy="815" r="7"/><circle cx="1247.6" cy="815" r="7"/><circle cx="1282.7" cy="815" r="7"/><circle cx="1317" cy="815" r="7"/><circle cx="1352" cy="815" r="7"/><circle cx="1386.6" cy="815" r="7"/><circle cx="1421.7" cy="815" r="7"/><circle cx="1600" cy="815" r="7"/><circle cx="1871.3" cy="815" r="7"/></g>
<g class="n"><text x="1397.4" y="567.5">9</text><text x="1338.8" y="584.2">4</text><text x="1449.7" y="584.2">4</text><text x="1264.8" y="600.2">6</text><text x="1228.4" y="611.8">10</text><text x="1178.7" y="624.5">32</text><text x="1145.5" y="635.8">31</text><text x="1008.4" y="673.5">5</text><text x="978.4" y="681.5">3</text><text x="952.9" y="690.2">6</text><text x="924.2" y="700.2">8</text><text x="925.5" y="743.5">19</text><text x="1757.8" y="666.8">4</text><text x="1799.2" y="677.5">2</text><text x="1834.3" y="688.2">6</text><text x="1869.4" y="701.8">7</text><text x="1869.4" y="743.5">1</text><text x="1869.4" y="789.2">31</text><text x="928.7" y="817.5">20</text><text x="1004" y="817.5">26</text><text x="1041" y="817.5">26</text><text x="1074" y="817.5">18</text><text x="1108.5" y="817.5">16</text><text x="1143" y="817.5">18</text><text x="1178.7" y="817.5">15</text><text x="1213" y="817.5">26</text><text x="1247.6" y="817.5">23</text><text x="1282.7" y="817.5">26</text><text x="1317" y="817.5">24</text><text x="1352" y="817.5">11</text><text x="1386.6" y="817.5">24</text><text x="1421.7" y="817.5">22</text><text x="1600" y="817.5">12</text><text x="1871.3" y="817.5">17</text></g>
</g>

<!-- DETTAGLIO SOPPALCO -->
<g>
<rect class="h" x="747.2" y="971" width="644.1" height="27.3"/>
<path class="k" d="M747.2 973.5H1391.3M774.5 1000.3H1361.5"/>
<polygon class="h" points="747.2,998.3 774.5,998.3 774.5,1228.3 831.7,1228.3 831.7,1250 774.5,1250 774.5,1286.7 747.2,1286.7"/>
<rect class="h" x="1361.5" y="998.3" width="19.9" height="228.4"/>
<polygon class="h" points="1165,1226.7 1391.3,1226.7 1391.3,1250 1219.7,1250 1219.7,1286.7 1197.3,1286.7 1197.3,1250 1165,1250"/>
<path class="k" d="M747.2 1036.7H774.5M1361.5 1036.7H1381.4M772 998.3V1036.7"/>
<rect class="kw" x="1341.6" y="1250" width="6.4" height="36.7"/>
<g class="h">
<rect x="774.5" y="1012.7" width="587" height="5.6"/><rect x="774.5" y="1049.3" width="587" height="5.7"/><rect x="774.5" y="1086.7" width="587" height="5.6"/><rect x="774.5" y="1123.3" width="587" height="5.7"/><rect x="774.5" y="1160" width="587" height="5.7"/><rect x="774.5" y="1196.7" width="587" height="5.6"/>
<rect x="832.7" y="1233.3" width="338.8" height="6"/><rect x="832.7" y="1270" width="364.6" height="6"/>
</g>
<path class="k" d="M967.5 998V1276M973.5 998V1276M1070.5 998V1276M1076.5 998V1276M1175 998V1226.7M1180 998V1226.7M970 1154H1177M970 1157.5H1177M964 1146V1160"/>
<g class="kw">
<rect x="977" y="1070" width="17.4" height="66.7"/><rect x="977" y="1000" width="17.4" height="20"/>
<rect x="774.5" y="985.7" width="7" height="17"/><rect x="815.8" y="985.7" width="7" height="17"/><rect x="857.1" y="985.7" width="7" height="17"/><rect x="898.9" y="985.7" width="7" height="17"/><rect x="940.6" y="985.7" width="7" height="17"/><rect x="982.4" y="985.7" width="7" height="17"/><rect x="1024.2" y="985.7" width="7" height="17"/><rect x="1066" y="985.7" width="7" height="17"/><rect x="1107.3" y="985.7" width="7" height="17"/><rect x="1149.1" y="985.7" width="7" height="17"/><rect x="1190.8" y="985.7" width="7" height="17"/><rect x="1232.6" y="985.7" width="7" height="17"/><rect x="1273.9" y="985.7" width="7" height="17"/><rect x="1315.7" y="985.7" width="7" height="17"/><rect x="1356.5" y="985.7" width="7" height="17"/>
</g>
<rect x="977" y="978" width="17" height="22" fill="none" stroke="#9bd36a" stroke-width=".7" stroke-dasharray="2 1.5"/>
<path class="ex" d="M1216.2 953V996.3M1130 1206.7H1136M1105 1240H1115M839.2 1214V1233M967.5 1214V1233"/>
<path class="dm" d="M1216.2 996.3V1012.7M1216.2 1012.7V1049.3M1216.2 1049.3V1086.7M1216.2 1086.7V1123.3M1216.2 1123.3V1160M1216.2 1160V1196.7M1216.2 1196.7V1226.7M1133.7 1206.7V1236.7M1111.8 1240V1270M839.2 1218.3H967.5"/>
<g class="dt">
<text transform="translate(1215 962) rotate(-90)">210</text><text transform="translate(1215 1031) rotate(-90)">470</text><text transform="translate(1215 1068) rotate(-90)">470</text><text transform="translate(1215 1105) rotate(-90)">470</text><text transform="translate(1215 1141.7) rotate(-90)">470</text><text transform="translate(1215 1178.3) rotate(-90)">470</text><text transform="translate(1215 1211.7) rotate(-90)">390</text>
<text transform="translate(1133 1213.3) rotate(-90)">80</text><text transform="translate(1111 1253.3) rotate(-90)">470</text>
<text x="902.9" y="1216.5">2006</text>
</g>
<path class="l" d="M710.9 972.7h5L794.4 1015.5M710.9 1012.7h5L794.4 1052M710.9 1052.7h5L794.4 1089.5M710.9 1092.7h5L794.4 1126M710.9 1132.7h5L797.5 1162.8M710.9 1172.7h5L799.6 1199.5M710.9 1212.7h5L855.8 1236.3M710.9 1252.7h5L856 1273
M1428.1 977.3h-5L1330.5 1015.5M1428.1 1013.3h-5L1330.5 1052M1428.1 1048.7h-5L1332 1089.5M1428.1 1084.3h-5L1332 1126M1428.1 1120h-5L1330.5 1162.8M1428.1 1155.3h-5L1330.5 1199.5M1428.1 1191h-5L1148 1236.3M1428.1 1226.7h-5L1148 1273
M920.8 936.7h5L971 1181.7M967 936.7h5L1063 1198.3M1011.8 936.7h5L1081 1164M1057.6 936.7h5L1097.5 1126M1103.4 936.7h5L1111.8 1089.7M1148.6 936.7h5L1126.7 1052M1194.4 936.7h5L1144 1015.3"/>
<g class="d"><circle cx="794.4" cy="1015.5" r="1.1"/><circle cx="794.4" cy="1052" r="1.1"/><circle cx="794.4" cy="1089.5" r="1.1"/><circle cx="794.4" cy="1126" r="1.1"/><circle cx="797.5" cy="1162.8" r="1.1"/><circle cx="799.6" cy="1199.5" r="1.1"/><circle cx="855.8" cy="1236.3" r="1.1"/><circle cx="856" cy="1273" r="1.1"/><circle cx="1330.5" cy="1015.5" r="1.1"/><circle cx="1330.5" cy="1052" r="1.1"/><circle cx="1332" cy="1089.5" r="1.1"/><circle cx="1332" cy="1126" r="1.1"/><circle cx="1330.5" cy="1162.8" r="1.1"/><circle cx="1330.5" cy="1199.5" r="1.1"/><circle cx="1148" cy="1236.3" r="1.1"/><circle cx="1148" cy="1273" r="1.1"/><circle cx="971" cy="1181.7" r="1.1"/><circle cx="1063" cy="1198.3" r="1.1"/><circle cx="1081" cy="1164" r="1.1"/><circle cx="1097.5" cy="1126" r="1.1"/><circle cx="1111.8" cy="1089.7" r="1.1"/><circle cx="1126.7" cy="1052" r="1.1"/><circle cx="1144" cy="1015.3" r="1.1"/></g>
<g class="c"><circle cx="703.9" cy="972.7" r="7"/><circle cx="703.9" cy="1012.7" r="7"/><circle cx="703.9" cy="1052.7" r="7"/><circle cx="703.9" cy="1092.7" r="7"/><circle cx="703.9" cy="1132.7" r="7"/><circle cx="703.9" cy="1172.7" r="7"/><circle cx="703.9" cy="1212.7" r="7"/><circle cx="703.9" cy="1252.7" r="7"/><circle cx="1435.1" cy="977.3" r="7"/><circle cx="1435.1" cy="1013.3" r="7"/><circle cx="1435.1" cy="1048.7" r="7"/><circle cx="1435.1" cy="1084.3" r="7"/><circle cx="1435.1" cy="1120" r="7"/><circle cx="1435.1" cy="1155.3" r="7"/><circle cx="1435.1" cy="1191" r="7"/><circle cx="1435.1" cy="1226.7" r="7"/><circle cx="913.8" cy="936.7" r="7"/><circle cx="960" cy="936.7" r="7"/><circle cx="1004.8" cy="936.7" r="7"/><circle cx="1050.6" cy="936.7" r="7"/><circle cx="1096.4" cy="936.7" r="7"/><circle cx="1141.6" cy="936.7" r="7"/><circle cx="1187.4" cy="936.7" r="7"/></g>
<g class="n"><text x="703.9" y="975.2">26</text><text x="703.9" y="1015.2">26</text><text x="703.9" y="1055.2">18</text><text x="703.9" y="1095.2">18</text><text x="703.9" y="1135.2">26</text><text x="703.9" y="1175.2">26</text><text x="703.9" y="1215.2">24</text><text x="703.9" y="1255.2">24</text><text x="1435.1" y="979.8">27</text><text x="1435.1" y="1015.8">27</text><text x="1435.1" y="1051.2">27</text><text x="1435.1" y="1086.8">27</text><text x="1435.1" y="1122.5">27</text><text x="1435.1" y="1157.8">27</text><text x="1435.1" y="1193.5">30</text><text x="1435.1" y="1229.2">29</text><text x="913.8" y="939.2">23</text><text x="960" y="939.2">25</text><text x="1004.8" y="939.2">25</text><text x="1050.6" y="939.2">28</text><text x="1096.4" y="939.2">28</text><text x="1141.6" y="939.2">25</text><text x="1187.4" y="939.2">25</text></g>
<text class="rt" x="1073" y="1311.5">DETTAGLIO SOPPALCO</text><text class="rt" x="1073" y="1318.5">SCALA 1 : 25</text>
</g>
</svg>
</body></html>
